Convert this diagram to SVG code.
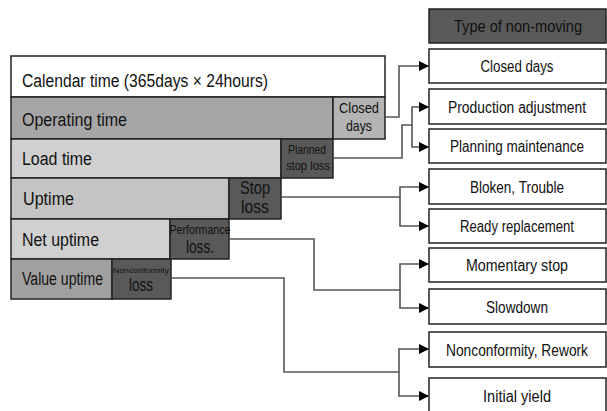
<svg xmlns="http://www.w3.org/2000/svg" width="607" height="411" viewBox="0 0 607 411">
<style>
.box{stroke:#222;stroke-width:1.5}
.t{font-family:"Liberation Sans",Arial,sans-serif;fill:#111}
.lbl{font-size:18px}
.rt{font-size:16px;text-anchor:middle}
.c{text-anchor:middle}
.con{fill:none;stroke:#555;stroke-width:1.6}
</style>
<defs>
<marker id="ah" markerUnits="userSpaceOnUse" markerWidth="10" markerHeight="10" refX="10" refY="5" orient="auto">
<path d="M0,0 L10,5 L0,10 z" fill="#000"/>
</marker>
</defs>
<rect width="607" height="411" fill="#fff"/>

<g id="calendar">
<rect class="box" x="11" y="56" width="374" height="41" fill="#fff"/>
<text class="t lbl" x="22" y="87" textLength="246" lengthAdjust="spacingAndGlyphs">Calendar time (365days × 24hours)</text>
</g>
<g id="operating">
<rect class="box" x="11" y="97" width="322" height="42" fill="#a6a6a6"/>
<text class="t lbl" x="22" y="126" textLength="105" lengthAdjust="spacingAndGlyphs">Operating time</text>
</g>
<g id="closed-loss">
<rect class="box" x="333" y="97" width="52" height="42" fill="#b4b4b4"/>
<text class="t c" x="359" y="113" font-size="15" fill="#333" textLength="40" lengthAdjust="spacingAndGlyphs">Closed</text>
<text class="t c" x="359" y="131" font-size="15" fill="#333" textLength="26" lengthAdjust="spacingAndGlyphs">days</text>
</g>
<g id="load">
<rect class="box" x="11" y="139" width="270" height="39" fill="#d0d0d0"/>
<text class="t lbl" x="22" y="165" textLength="70" lengthAdjust="spacingAndGlyphs">Load time</text>
</g>
<g id="planned-loss">
<rect class="box" x="281" y="139" width="52" height="39" fill="#595959"/>
<text class="t c" x="307" y="154" font-size="12" textLength="38" lengthAdjust="spacingAndGlyphs">Planned</text>
<text class="t c" x="308" y="170" font-size="12" textLength="44" lengthAdjust="spacingAndGlyphs">stop loss</text>
</g>
<g id="uptime">
<rect class="box" x="11" y="178" width="218" height="41" fill="#c4c4c4"/>
<text class="t lbl" x="23" y="205" textLength="51" lengthAdjust="spacingAndGlyphs">Uptime</text>
</g>
<g id="stop-loss">
<rect class="box" x="229" y="178" width="52" height="41" fill="#595959"/>
<text class="t c" x="255" y="194" font-size="18" textLength="30" lengthAdjust="spacingAndGlyphs">Stop</text>
<text class="t c" x="255" y="213" font-size="18" textLength="28" lengthAdjust="spacingAndGlyphs">loss</text>
</g>
<g id="net-uptime">
<rect class="box" x="11" y="219" width="159" height="40" fill="#d0d0d0"/>
<text class="t lbl" x="22" y="246" textLength="77" lengthAdjust="spacingAndGlyphs">Net uptime</text>
</g>
<g id="performance-loss">
<rect class="box" x="170" y="219" width="59" height="40" fill="#595959"/>
<text class="t c" x="200" y="234" font-size="12" textLength="61" lengthAdjust="spacingAndGlyphs">Performance</text>
<text class="t c" x="200" y="253" font-size="18" textLength="28" lengthAdjust="spacingAndGlyphs">loss.</text>
</g>
<g id="value-uptime">
<rect class="box" x="11" y="259" width="101" height="40" fill="#a0a0a0"/>
<text class="t lbl" x="22" y="285" textLength="81" lengthAdjust="spacingAndGlyphs">Value uptime</text>
</g>
<g id="nonconformity-loss">
<rect class="box" x="112" y="259" width="59" height="40" fill="#595959"/>
<text class="t c" x="141" y="273" font-size="8" textLength="56" lengthAdjust="spacingAndGlyphs">Nonconformity</text>
<text class="t c" x="141" y="291" font-size="18" textLength="24" lengthAdjust="spacingAndGlyphs">loss</text>
</g>

<g id="header">
<rect class="box" x="429" y="9" width="177" height="34" fill="#595959"/>
<text class="t rt" x="518" y="32" textLength="128" lengthAdjust="spacingAndGlyphs">Type of non-moving</text>
</g>
<g id="r-closed-days">
<rect class="box" x="429" y="49" width="177" height="34" fill="#fff"/>
<text class="t rt" x="517" y="72" textLength="73" lengthAdjust="spacingAndGlyphs">Closed days</text>
</g>
<g id="r-production">
<rect class="box" x="429" y="89" width="177" height="35" fill="#fff"/>
<text class="t rt" x="517" y="113" textLength="138" lengthAdjust="spacingAndGlyphs">Production adjustment</text>
</g>
<g id="r-planning">
<rect class="box" x="429" y="129" width="177" height="34" fill="#fff"/>
<text class="t rt" x="517" y="152" textLength="134" lengthAdjust="spacingAndGlyphs">Planning maintenance</text>
</g>
<g id="r-bloken">
<rect class="box" x="429" y="169" width="177" height="35" fill="#fff"/>
<text class="t rt" x="517" y="193" textLength="94" lengthAdjust="spacingAndGlyphs">Bloken, Trouble</text>
</g>
<g id="r-ready">
<rect class="box" x="429" y="209" width="177" height="34" fill="#fff"/>
<text class="t rt" x="517" y="232" textLength="114" lengthAdjust="spacingAndGlyphs">Ready replacement</text>
</g>
<g id="r-momentary">
<rect class="box" x="429" y="248" width="177" height="34" fill="#fff"/>
<text class="t rt" x="517" y="271" textLength="102" lengthAdjust="spacingAndGlyphs">Momentary stop</text>
</g>
<g id="r-slowdown">
<rect class="box" x="429" y="289" width="177" height="35" fill="#fff"/>
<text class="t rt" x="517" y="313" textLength="62" lengthAdjust="spacingAndGlyphs">Slowdown</text>
</g>
<g id="r-nonconformity">
<rect class="box" x="429" y="332" width="177" height="35" fill="#fff"/>
<text class="t rt" x="517" y="356" textLength="142" lengthAdjust="spacingAndGlyphs">Nonconformity, Rework</text>
</g>
<g id="r-initial">
<rect class="box" x="429" y="378" width="177" height="36" fill="#fff"/>
<text class="t rt" x="517" y="402" textLength="68" lengthAdjust="spacingAndGlyphs">Initial yield</text>
</g>

<g id="connectors">
<path class="con" d="M385,117 H399 V66 H429" marker-end="url(#ah)"/>
<path class="con" d="M333,158 H402 V125 H412 V107 H429" marker-end="url(#ah)"/>
<path class="con" d="M412,125 V147 H429" marker-end="url(#ah)"/>
<path class="con" d="M281,197 H400 V187 H429" marker-end="url(#ah)"/>
<path class="con" d="M400,197 V226 H429" marker-end="url(#ah)"/>
<path class="con" d="M229,239 H314 V290 H400 V264 H429" marker-end="url(#ah)"/>
<path class="con" d="M400,290 V308 H429" marker-end="url(#ah)"/>
<path class="con" d="M171,278 H284 V372 H399 V349 H429" marker-end="url(#ah)"/>
<path class="con" d="M399,372 V396 H429" marker-end="url(#ah)"/>
</g>
</svg>
